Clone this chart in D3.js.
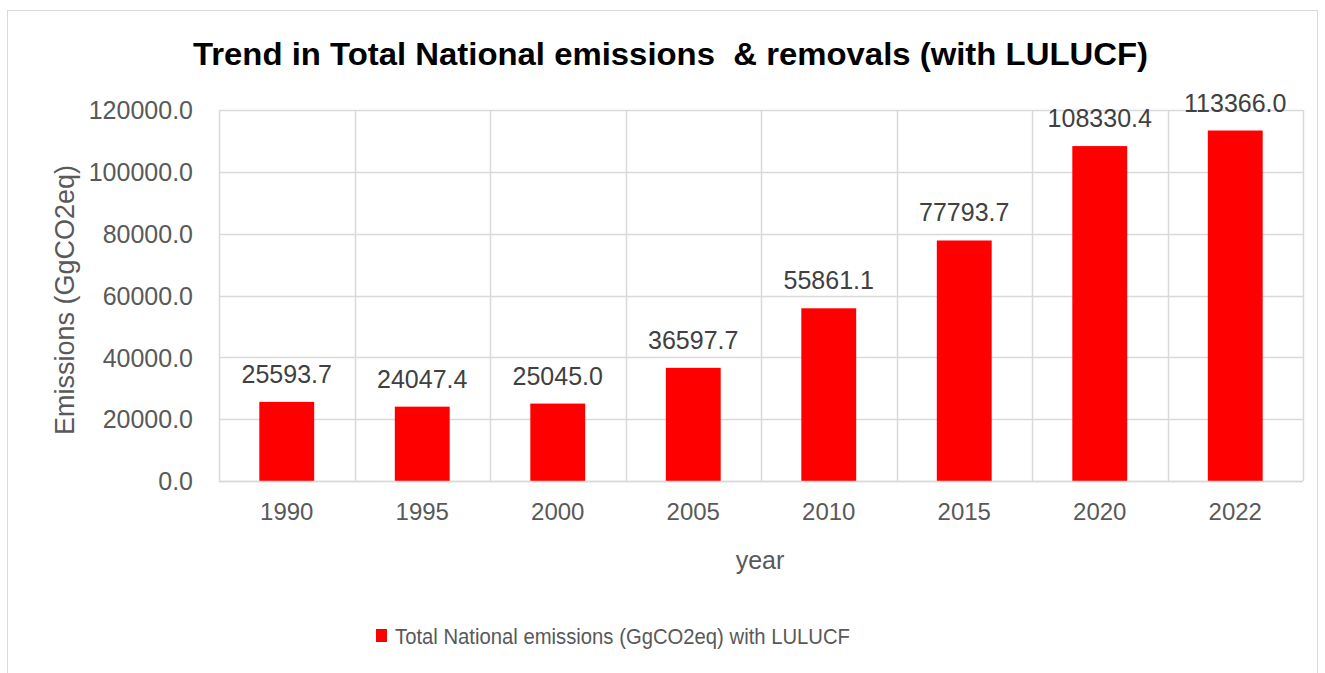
<!DOCTYPE html>
<html>
<head>
<meta charset="utf-8">
<script src="https://cdn.jsdelivr.net/npm/d3@7"></script>
<style>
  html, body { margin: 0; padding: 0; background: #fff; }
  svg { display: block; }
</style>
</head>
<body>
<svg id="chart" width="1325" height="673"></svg>
<script>
// Emissions by year, GgCO2eq with LULUCF
const years = ["1990", "1995", "2000", "2005", "2010", "2015", "2020", "2022"];
const emissions = [25593.7, 24047.4, 25045.0, 36597.7, 55861.1, 77793.7, 108330.4, 113366.0];
const yTicks = [0, 20000, 40000, 60000, 80000, 100000, 120000];

const titleText = "Trend in Total National emissions  & removals (with LULUCF)";
const yTitle = "Emissions (GgCO2eq)";
const xTitle = "year";
const legendText = "Total National emissions (GgCO2eq) with LULUCF";

const W = 1325, H = 673;
const plot = { left: 219, right: 1303, top: 110, bottom: 481 };
const textColor = "#595959";
const gridColor = "#d9d9d9";
const barColor = "#ff0000";
const font = "'Liberation Sans', Arial, sans-serif";

const svg = d3.select("#chart");

// chart frame
svg.append("rect")
  .attr("x", 7.5).attr("y", 10.5)
  .attr("width", W - 15).attr("height", H - 8)
  .attr("fill", "#fff").attr("stroke", gridColor).attr("stroke-width", 1);

const x = d3.scaleBand().domain(years).range([plot.left, plot.right]).padding(0);
const y = d3.scaleLinear().domain([0, 120000]).range([plot.bottom, plot.top]);

// horizontal gridlines
svg.append("g").selectAll("line").data(yTicks).join("line")
  .attr("x1", plot.left).attr("x2", plot.right)
  .attr("y1", d => Math.round(y(d)) + 0.5).attr("y2", d => Math.round(y(d)) + 0.5)
  .attr("stroke", gridColor).attr("stroke-width", 1.5);

// vertical gridlines at category boundaries
const bounds = years.map(d => x(d)).concat([plot.right]);
svg.append("g").selectAll("line").data(bounds).join("line")
  .attr("x1", d => Math.round(d) + 0.5).attr("x2", d => Math.round(d) + 0.5)
  .attr("y1", plot.top).attr("y2", plot.bottom)
  .attr("stroke", gridColor).attr("stroke-width", 1.5);

// y axis tick labels
const yAxis = d3.axisLeft(y).tickValues(yTicks).tickSize(0).tickPadding(0)
  .tickFormat(d => d3.format(".1f")(d));
const ya = svg.append("g").attr("transform", `translate(${plot.left - 26},0)`).call(yAxis);
ya.select(".domain").remove();
ya.selectAll("text").attr("fill", textColor).attr("font-family", font)
  .attr("font-size", 25).attr("dy", "0.35em");

// x axis tick labels
const xAxis = d3.axisBottom(x).tickSize(0).tickPadding(0);
const xa = svg.append("g").attr("transform", `translate(0,${plot.bottom + 22})`).call(xAxis);
xa.select(".domain").remove();
xa.selectAll("text").attr("fill", textColor).attr("font-family", font)
  .attr("font-size", 24).attr("dy", "0.71em");

// bars
const barFrac = 0.405;
const bw = x.bandwidth() * barFrac;
const data = years.map((yr, i) => ({ yr, v: emissions[i] }));
svg.append("g").selectAll("rect").data(data).join("rect")
  .attr("x", d => x(d.yr) + (x.bandwidth() - bw) / 2)
  .attr("width", bw)
  .attr("y", d => y(d.v))
  .attr("height", d => y(0) - y(d.v))
  .attr("fill", barColor);

// value labels
svg.append("g").selectAll("text").data(data).join("text")
  .attr("x", d => x(d.yr) + x.bandwidth() / 2)
  .attr("y", d => y(d.v) - 19)
  .attr("text-anchor", "middle")
  .attr("fill", "#404040").attr("font-family", font).attr("font-size", 25)
  .text(d => d3.format(".1f")(d.v));

// bottom axis line
svg.append("line")
  .attr("x1", plot.left).attr("x2", plot.right)
  .attr("y1", plot.bottom + 0.5).attr("y2", plot.bottom + 0.5)
  .attr("stroke", gridColor).attr("stroke-width", 1.5);

// title
svg.append("text")
  .attr("x", 193).attr("y", 65)
  .attr("font-family", font).attr("font-weight", "bold").attr("font-size", 32)
  .attr("fill", "#000")
  .attr("textLength", 955).attr("lengthAdjust", "spacingAndGlyphs")
  .style("white-space", "pre")
  .text(titleText);

// axis titles
svg.append("text")
  .attr("transform", `translate(74,300) rotate(-90)`)
  .attr("text-anchor", "middle")
  .attr("font-family", font).attr("font-size", 27).attr("fill", textColor)
  .text(yTitle);

svg.append("text")
  .attr("x", 760).attr("y", 569)
  .attr("text-anchor", "middle")
  .attr("font-family", font).attr("font-size", 25).attr("fill", textColor)
  .text(xTitle);

// legend
const lg = svg.append("g");
lg.append("rect").attr("x", 376).attr("y", 629).attr("width", 11).attr("height", 13).attr("fill", barColor);
lg.append("text").attr("x", 395).attr("y", 636).attr("dy", "0.35em")
  .attr("font-family", font).attr("font-size", 22).attr("fill", textColor)
  .attr("textLength", 455).attr("lengthAdjust", "spacingAndGlyphs")
  .text(legendText);
</script>
</body>
</html>
